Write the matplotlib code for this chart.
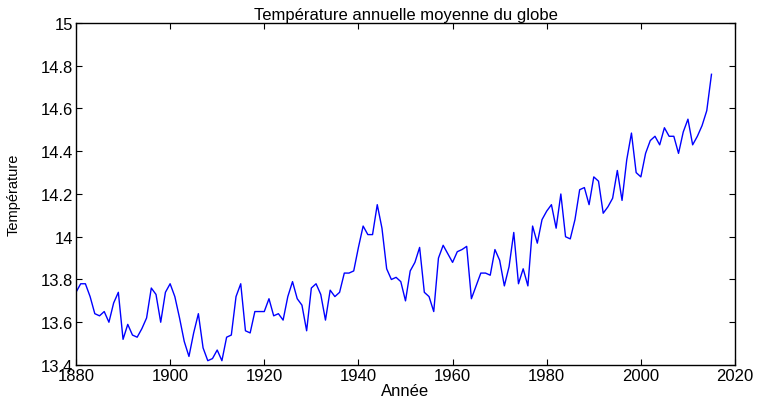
import matplotlib
matplotlib.use('Agg')
import matplotlib.pyplot as plt

plt.rcParams['font.family'] = ['Liberation Sans', 'DejaVu Sans']

# années et températures moyennes
annees = list(range(1880, 2016))
temperatures = [
    13.74, 13.78, 13.78, 13.72, 13.64, 13.63, 13.65, 13.60, 13.69, 13.74,
    13.52, 13.59, 13.54, 13.53, 13.57, 13.62, 13.76, 13.73, 13.60, 13.74,
    13.78, 13.72, 13.62, 13.51, 13.44, 13.55, 13.64, 13.48, 13.42, 13.43,
    13.47, 13.42, 13.53, 13.54, 13.72, 13.78, 13.56, 13.55, 13.65, 13.65,
    13.65, 13.71, 13.63, 13.64, 13.61, 13.72, 13.79, 13.71, 13.68, 13.56,
    13.76, 13.78, 13.73, 13.61, 13.75, 13.72, 13.74, 13.83, 13.83, 13.84,
    13.95, 14.05, 14.01, 14.01, 14.15, 14.04, 13.85, 13.80, 13.81, 13.79,
    13.70, 13.84, 13.88, 13.95, 13.74, 13.72, 13.65, 13.90, 13.96, 13.92,
    13.88, 13.93, 13.94, 13.955, 13.71, 13.77, 13.83, 13.83, 13.82, 13.94,
    13.89, 13.77, 13.86, 14.02, 13.78, 13.85, 13.77, 14.05, 13.97, 14.08,
    14.12, 14.15, 14.04, 14.20, 14.00, 13.99, 14.08, 14.22, 14.23, 14.15,
    14.28, 14.26, 14.11, 14.14, 14.18, 14.31, 14.17, 14.36, 14.485, 14.30,
    14.28, 14.39, 14.45, 14.47, 14.43, 14.51, 14.47, 14.47, 14.39, 14.49,
    14.55, 14.43, 14.47, 14.52, 14.59, 14.76,
]
xticks = [1880, 1900, 1920, 1940, 1960, 1980, 2000, 2020]
yticks = [13.4, 13.6, 13.8, 14, 14.2, 14.4, 14.6, 14.8, 15]
ylabels = ['13.4', '13.6', '13.8', '14', '14.2', '14.4', '14.6', '14.8', '15']

fig = plt.figure(figsize=(7.59, 4.02), dpi=100)
fig.patch.set_facecolor('white')
ax = fig.add_axes([0.1001, 0.0896, 0.8683, 0.8507])

ax.plot(annees, temperatures, color='#0000ff', linewidth=1.0)

ax.set_xlim(1880, 2020)
ax.set_ylim(13.4, 15)
ax.set_xticks(xticks)
ax.set_yticks(yticks)
ax.set_yticklabels(ylabels)
ax.tick_params(direction='in', top=True, right=True, length=4, width=0.8,
               labelsize=12, pad=2, colors='black')
for s in ax.spines.values():
    s.set_linewidth(1.0)

ax.set_title('Température annuelle moyenne du globe', fontsize=12, pad=3)
ax.set_xlabel('Année', fontsize=12, labelpad=0)
ax.set_ylabel('Température', fontsize=10.5)
ax.yaxis.set_label_coords(-0.084, 0.5)

fig.savefig('out.png', dpi=100, facecolor='white')
